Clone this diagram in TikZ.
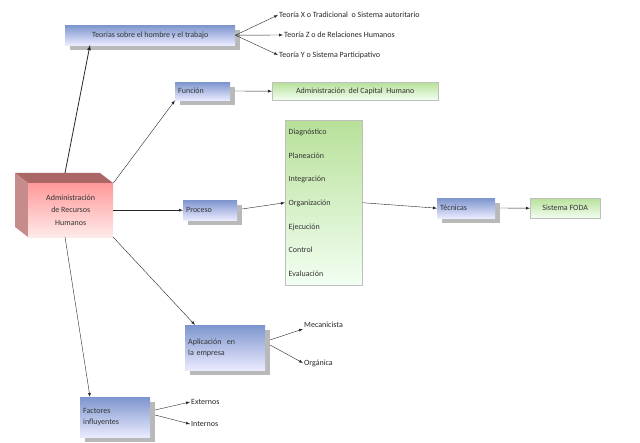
\documentclass[tikz,border=0pt]{standalone}
\usepackage{fontspec}
\setmainfont{Carlito}
\begin{document}
\begin{tikzpicture}[x=1pt,y=-1pt,font=\fontsize{8}{9.5}\selectfont,
 blue box/.style={draw=none,bottom color=blue!8!white,top color=cyan!30!blue!45!gray!70!white,
   anchor=north west,minimum height=20pt,inner sep=3pt,text=black!80},
 green box/.style={draw=gray!50,bottom color=green!5!white,top color=green!40!olive!40!white,anchor=north west,text=black!80},
 lbl/.style={anchor=west,inner sep=1pt,text=black!85},
 shd/.style={fill=gray!55},
 arr/.style={-latex,draw=black!85,thin}]
\useasboundingbox (0,0) rectangle (640,443);
% cube
\fill[red!45!black!60!white] (15,173) -- (100,173) -- (113,183) -- (28,183) -- cycle;
\fill[red!50!black!45!white] (15,173) -- (28,183) -- (28,237) -- (15,227) -- cycle;
\node[anchor=north west,minimum width=85pt,minimum height=54pt,inner sep=0pt,
  bottom color=red!8!white,top color=red!40!white,align=center,text=black!80] (adm) at (28,183)
  {Administración\\[3pt]de Recursos\\[3pt]Humanos};
\fill[shd] (70,30) rectangle (240,50);
\fill[shd] (180,87) rectangle (235,105);
\fill[shd] (188,205) rectangle (242,225);
\fill[shd] (442,203) rectangle (500,223);
\fill[shd] (190,330) rectangle (270,375);
\fill[shd] (85,402) rectangle (155,442);
\node[blue box,minimum width=170pt] (teo) at (65,25) {Teorías sobre el hombre y el trabajo};
\node[blue box,minimum width=55pt,minimum height=18pt,align=left,text width=49pt] (fun) at (175,82) {Función};
\node[blue box,minimum width=54pt,text width=48pt] (pro) at (183,200) {Proceso};
\node[blue box,minimum width=58pt,text width=52pt] (tec) at (437,198) {Técnicas};
\node[blue box,minimum width=80pt,minimum height=45pt,text width=74pt,align=left] (apl) at (185,325) {Aplicación\ \ en\\[1pt]la empresa};
\node[blue box,minimum width=70pt,minimum height=40pt,text width=64pt,align=left] (fac) at (80,397) {Factores\\[1pt]influyentes};
\node[green box,minimum width=166pt,minimum height=18pt] (cap) at (272,82) {Administración\ \ del Capital\ \ Humano};
\node[green box,minimum width=77pt,minimum height=165pt,align=left,text width=70pt] (gb) at (285,120)
 {Diagnóstico\\[14.2pt]Planeación\\[14.2pt]Integración\\[14.2pt]Organización\\[14.2pt]Ejecución\\[14.2pt]Control\\[14.2pt]Evaluación};
\node[green box,minimum width=70pt,minimum height=20pt] (foda) at (530,198) {Sistema FODA};
\node[lbl] (tx) at (278,15) {Teoría X o Tradicional\ \ o Sistema autoritario};
\node[lbl] (tz) at (283,35) {Teoría Z o de Relaciones\ Humanos};
\node[lbl] (ty) at (278,55) {Teoría Y o Sistema Participativo};
\node[lbl] (mec) at (303,325) {Mecanicista};
\node[lbl] (org) at (303,363) {Orgánica};
\node[lbl] (ext) at (190,402) {Externos};
\node[lbl] (int) at (190,424) {Internos};
\coordinate (a1) at (65,173); \coordinate (a2) at (113,237); \coordinate (a3) at (65,237);
\coordinate (t1) at (90,45); \coordinate (p1) at (195,325); \coordinate (f1) at (90,397);
\draw[arr,thick] (a1) -- (t1);
\draw[arr] (adm.north east) -- (fun.south west);
\draw[arr] (adm.east) -- (pro.west);
\draw[arr] (a2) -- (p1);
\draw[arr] (a3) -- (f1);
\draw[arr] (teo.east) -- (tx.west);
\draw[arr] (teo.east) -- (tz.west);
\draw[arr] (teo.east) -- (ty.west);
\draw[arr] (235,91) -- (cap.west);
\draw[arr] (242,209) -- (gb.west);
\draw[arr] (gb.east) -- (tec.west);
\draw[arr] (500,208) -- (foda.west);
\draw[arr] (270,340) -- (mec.south west);
\draw[arr] (270,345) -- (org.west);
\draw[arr] (155,410) -- (ext.west);
\draw[arr] (155,415) -- (int.west);
\end{tikzpicture}
\end{document}
